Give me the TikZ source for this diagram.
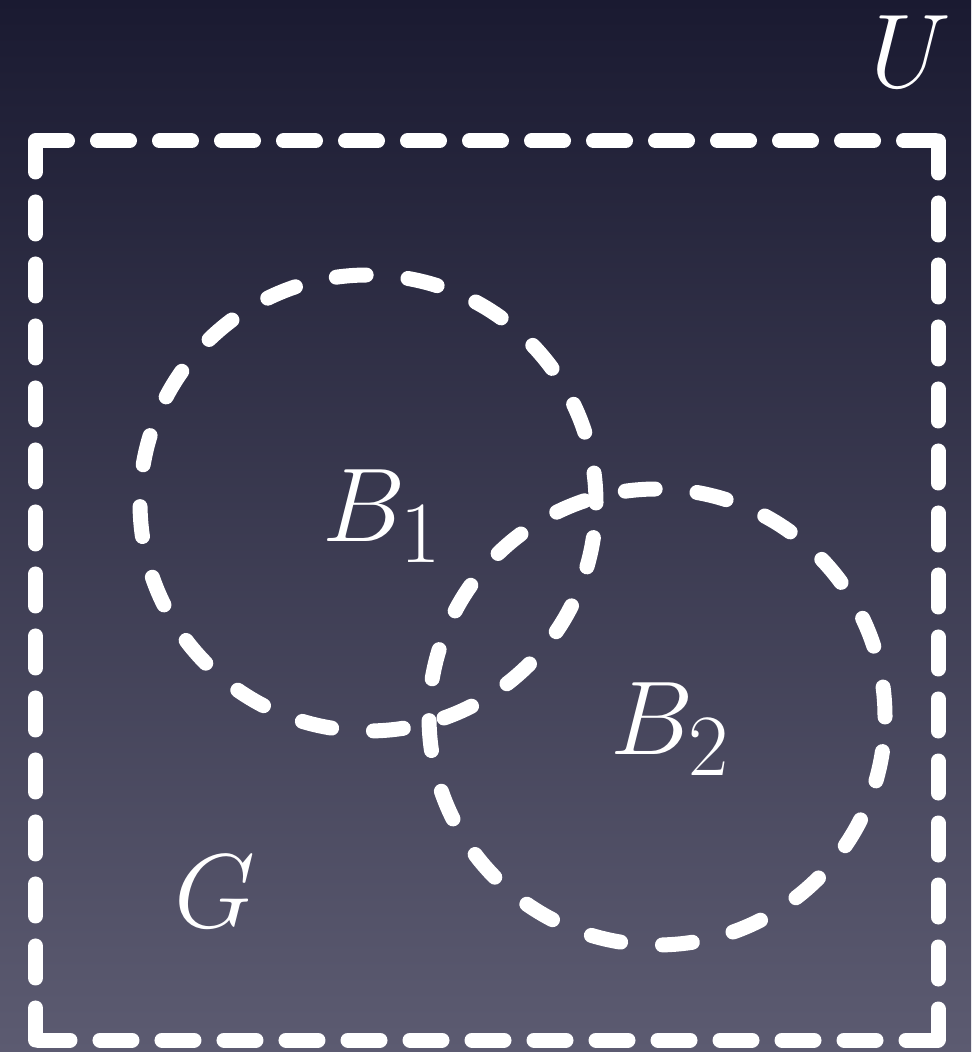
\documentclass[tikz,border=0pt]{standalone}
\usepackage{amsmath}
\usepackage{xcolor}
\usepackage{tikz}
\usetikzlibrary{positioning,calc}
\definecolor{SlideTop}{HTML}{1A1A31}
\definecolor{SlideMid}{HTML}{3A3A55}
\definecolor{SlideBot}{HTML}{5C5B71}
\tikzset{
  setline/.style={draw=white,line width=0.15cm,line cap=round,dash pattern=on 0.32cm off 0.30cm},
  ballline/.style={circle,draw=white,line width=0.15cm,line cap=round,dash pattern=on 0.30cm off 0.42cm,minimum size=4.56cm,inner sep=0pt},
  setlabel/.style={text=white,font=\Huge,scale=1.2,transform shape,inner sep=0pt,anchor=base west}
}

\begin{document}
\begin{tikzpicture}
\shade[top color=SlideTop,middle color=SlideMid,bottom color=SlideBot] (0,0) rectangle (9.71,10.52);
\useasboundingbox (0,0) rectangle (9.71,10.52);

% the set G, every side dashed from its own corner
\coordinate (tl) at (0.355,9.11);
\coordinate (tr) at (9.38,9.11);
\coordinate (bl) at (0.355,0.12);
\coordinate (br) at (9.38,0.12);
\draw[setline] (tl) -- (tr) (tr) -- (br) (br) -- (bl) (bl) -- (tl);

\node[ballline] (ball1) at (3.68,5.49) {};
\node[ballline] (ball2) at (6.57,3.35) {};

\node[setlabel] (lblU) at (8.70,9.64) {$U$};
\node[setlabel] (lblB1) at (3.22,5.10) {$B_1$};
\node[setlabel] (lblB2) at (6.10,2.97) {$B_2$};
\node[setlabel] (lblG) at (1.74,1.24) {$G$};
\end{tikzpicture}
\end{document}
